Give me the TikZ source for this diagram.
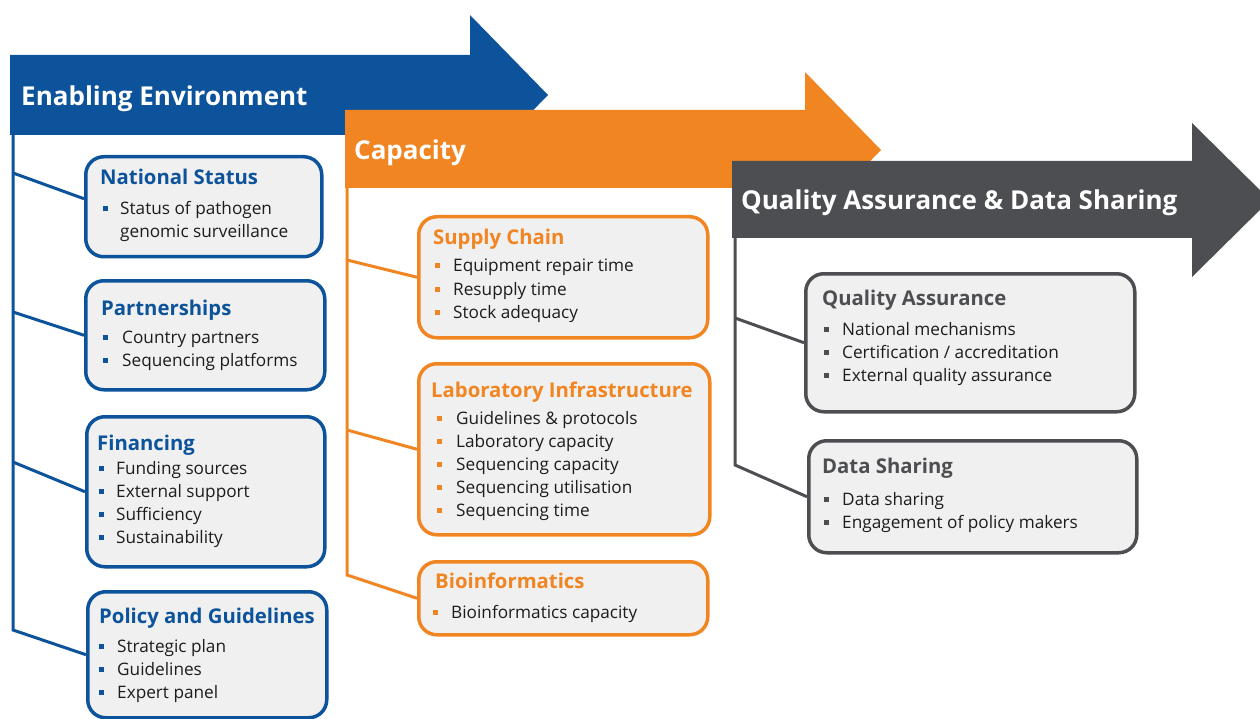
\documentclass[tikz,border=0pt]{standalone}
\usepackage{fontspec}
\setmainfont{Open Sans}
\definecolor{ebl}{RGB}{12,83,155}
\definecolor{cor}{RGB}{241,133,34}
\definecolor{qgr}{RGB}{77,78,82}
\definecolor{bfill}{RGB}{240,240,240}
\definecolor{txt}{RGB}{30,28,30}
\newcommand\itm[6]{\node[itm] (#1) at (#2,#4) {\makebox[0pt][l]{\textcolor{#5}{\rule[3.5pt]{5pt}{5pt}}}\hspace*{#3pt}#6};}
\tikzset{
 box/.style={draw=#1, line width=3.5pt, rounded corners=18pt, fill=bfill, anchor=north west, inner sep=0pt},
 ttl/.style={anchor=base west, inner sep=0pt, font=\fontsize{20.3}{24}\selectfont\bfseries, text=#1},
 itm/.style={anchor=base west, inner sep=0pt, font=\fontsize{17.2}{20}\selectfont, text=txt},
 hdr/.style={anchor=base west, inner sep=0pt, font=\fontsize{26}{30}\selectfont\bfseries, text=white},
 spine/.style={draw=#1, line width=3pt},
}
\begin{document}
\begin{tikzpicture}[x=1pt,y=-1pt]
\path[use as bounding box] (0,0) rectangle (1260,719);
\clip (0,0) rectangle (1260,719);
% arrows
\fill[ebl] (10,55) -- (470,55) -- (470,15) -- (548,95) -- (470,175) -- (470,135) -- (10,135) -- cycle;
\fill[cor] (345,110) -- (805,110) -- (805,72) -- (881,150) -- (805,228) -- (805,188) -- (345,188) -- cycle;
\fill[qgr] (732,161) -- (1192,161) -- (1192,123) -- (1270,200) -- (1192,277) -- (1192,238) -- (732,238) -- cycle;
\node[hdr] (ebt) at (21,106) {Enabling Environment};
\node[hdr] (cat) at (354,160) {Capacity};
\node[hdr] (qat) at (741,210) {Quality Assurance \& Data Sharing};
% boxes
\node[box=ebl, minimum width=236pt, minimum height=100pt] (ns) at (84,155) {};
\node[box=ebl, minimum width=239pt, minimum height=109pt] (pa) at (84,279) {};
\node[box=ebl, minimum width=238pt, minimum height=150pt] (fi) at (85,415) {};
\node[box=ebl, minimum width=239pt, minimum height=126pt] (po) at (86,590) {};
\node[box=cor, minimum width=289pt, minimum height=121pt] (sc) at (417,215) {};
\node[box=cor, minimum width=291pt, minimum height=171pt] (li) at (417,362) {};
\node[box=cor, minimum width=289pt, minimum height=73pt] (bi) at (417,560) {};
\node[box=qgr, minimum width=329pt, minimum height=138pt] (qa) at (804,272) {};
\node[box=qgr, minimum width=328pt, minimum height=112pt] (ds) at (807,439) {};
% spines
\coordinate (e0) at (13,135); \coordinate (e1) at (13,173); \coordinate (e2) at (13,312);
\coordinate (e3) at (13,462); \coordinate (e4) at (13,630);
\coordinate (c0) at (347,188); \coordinate (c1) at (347,260); \coordinate (c2) at (347,430); \coordinate (c3) at (347,575);
\coordinate (q0) at (735,238); \coordinate (q1) at (735,318); \coordinate (q2) at (735,465);
\draw[spine=ebl] (e0) -- (e4) -- (po.west);
\draw[spine=ebl] (e1) -- ([yshift=8pt]ns.west);
\draw[spine=ebl] (e2) -- (pa.west);
\draw[spine=ebl] (e3) -- (fi.west);
\draw[spine=cor] (c0) -- (c3) -- (bi.west);
\draw[spine=cor] (c1) -- (sc.west);
\draw[spine=cor] (c2) -- (li.west);
\draw[spine=qgr] (q0) -- (q2) -- (ds.west);
\draw[spine=qgr] (q1) -- (qa.west);
% texts blue
\node[ttl=ebl] (nst) at (100,185) {National Status};
\itm{ns1}{103}{17}{215}{ebl}{Status of pathogen}
\node[itm] (ns2) at (120,238) {genomic surveillance};
\node[ttl=ebl] (pat) at (101,315) {Partnerships};
\itm{pa1}{103}{19}{343}{ebl}{Country partners}
\itm{pa2}{103}{19}{366}{ebl}{Sequencing platforms}
\node[ttl=ebl] (fit) at (97,450) {Financing};
\itm{fi1}{99}{17}{474}{ebl}{Funding sources}
\itm{fi2}{99}{17}{497}{ebl}{External support}
\itm{fi3}{99}{17}{520}{ebl}{Sufficiency}
\itm{fi4}{99}{17}{543}{ebl}{Sustainability}
\node[ttl=ebl] (pot) at (99,623) {Policy and Guidelines};
\itm{po1}{99}{18}{652}{ebl}{Strategic plan}
\itm{po2}{99}{18}{675}{ebl}{Guidelines}
\itm{po3}{99}{18}{698}{ebl}{Expert panel}
% texts orange
\node[ttl=cor] (sct) at (433,245) {Supply Chain};
\itm{sc1}{435}{18}{272}{cor}{Equipment repair time}
\itm{sc2}{435}{18}{295}{cor}{Resupply time}
\itm{sc3}{435}{18}{318}{cor}{Stock adequacy}
\node[ttl=cor] (lit) at (431,397) {Laboratory Infrastructure};
\itm{li1}{437}{19}{424}{cor}{Guidelines \& protocols}
\itm{li2}{437}{19}{447}{cor}{Laboratory capacity}
\itm{li3}{437}{19}{470}{cor}{Sequencing capacity}
\itm{li4}{437}{19}{493}{cor}{Sequencing utilisation}
\itm{li5}{437}{19}{516}{cor}{Sequencing time}
\node[ttl=cor] (bit) at (435,588) {Bioinformatics};
\itm{bi1}{433}{18}{618}{cor}{Bioinformatics capacity}
% texts grey
\node[ttl=qgr] (qat2) at (822,305) {Quality Assurance};
\itm{qa1}{824}{18}{335}{qgr}{National mechanisms}
\itm{qa2}{824}{18}{358}{qgr}{Certification / accreditation}
\itm{qa3}{824}{18}{381}{qgr}{External quality assurance}
\node[ttl=qgr] (dst) at (822,473) {Data Sharing};
\itm{ds1}{824}{18}{505}{qgr}{Data sharing}
\itm{ds2}{824}{18}{528}{qgr}{Engagement of policy makers}
\end{tikzpicture}
\end{document}
